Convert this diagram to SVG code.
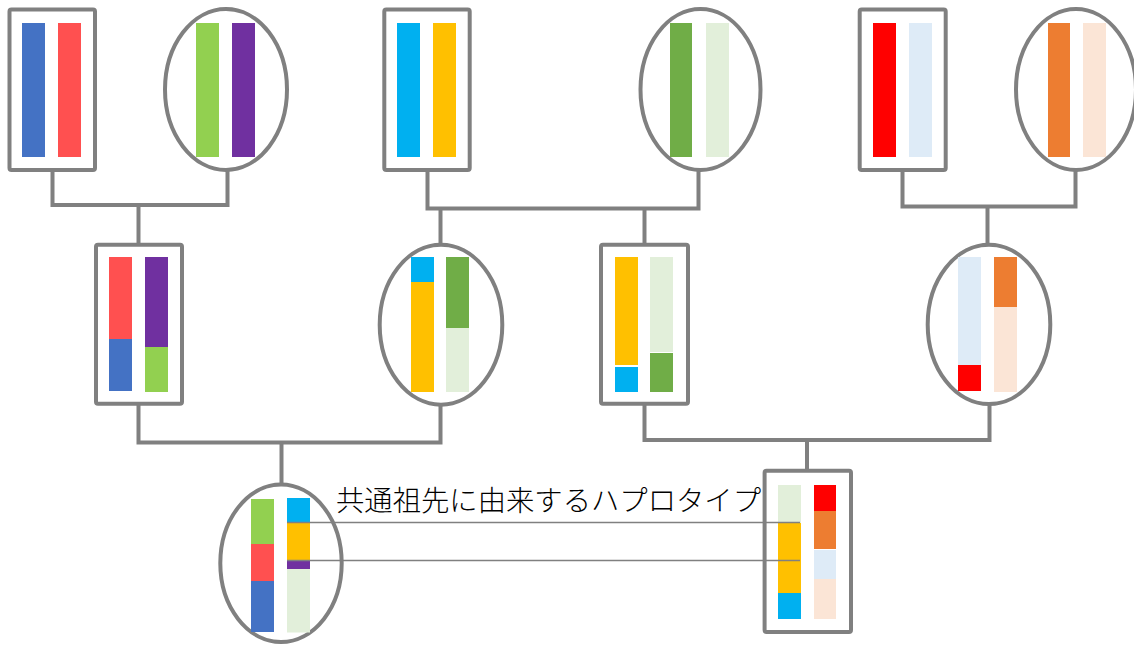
<svg xmlns="http://www.w3.org/2000/svg" width="1134" height="646" viewBox="0 0 1134 646">
<style>
.sq{fill:#fff;stroke:#808080;stroke-width:4;}
.el{fill:#fff;stroke:#808080;stroke-width:4;}
.cn{fill:none;stroke:#808080;stroke-width:4;stroke-linecap:butt;stroke-linejoin:miter;}
.hl{fill:none;stroke:#808080;stroke-width:1.5;}
.lbl{font-family:"Noto Sans CJK JP","Noto Sans",sans-serif;font-size:28px;font-weight:300;fill:#000;}
</style>
<rect width="1134" height="646" fill="#fff"/>
<g id="connectors">
<polyline class="cn" points="52.5,170 52.5,205 227.5,205 227.5,170"/>
<line class="cn" x1="138.5" y1="205" x2="138.5" y2="243"/>
<polyline class="cn" points="427.5,170 427.5,208.5 698.5,208.5 698.5,170"/>
<line class="cn" x1="440.5" y1="208.5" x2="440.5" y2="244"/>
<line class="cn" x1="644.5" y1="208.5" x2="644.5" y2="244"/>
<polyline class="cn" points="902.5,170 902.5,206.5 1075.5,206.5 1075.5,170"/>
<line class="cn" x1="987.5" y1="206.5" x2="987.5" y2="244"/>
<polyline class="cn" points="138.5,404 138.5,442.5 440.5,442.5 440.5,404"/>
<line class="cn" x1="281.5" y1="442.5" x2="281.5" y2="484"/>
<polyline class="cn" points="644.5,404 644.5,440 989.5,440 989.5,404"/>
<line class="cn" x1="807" y1="440" x2="807" y2="471"/>
</g>
<g id="g1m">
<rect class="sq" x="9.5" y="9.5" width="85.5" height="160.5" rx="2"/>
<rect x="22" y="23" width="23" height="134" fill="#4472C4"/>
<rect x="58" y="23" width="23" height="134" fill="#FF5050"/>
</g>
<g id="g1f">
<ellipse class="el" cx="226" cy="89.5" rx="61" ry="80.5"/>
<rect x="196" y="23" width="23" height="134" fill="#92D050"/>
<rect x="232" y="23" width="23" height="134" fill="#7030A0"/>
</g>
<g id="g2m">
<rect class="sq" x="384.3" y="9.5" width="85.4" height="160.5" rx="2"/>
<rect x="397" y="23" width="23" height="134" fill="#00B0F0"/>
<rect x="433" y="23" width="23" height="134" fill="#FFC000"/>
</g>
<g id="g2f">
<ellipse class="el" cx="700.5" cy="89.5" rx="60" ry="80.5"/>
<rect x="670" y="23" width="22" height="134" fill="#70AD47"/>
<rect x="706" y="23" width="23" height="134" fill="#E2EFDA"/>
</g>
<g id="g3m">
<rect class="sq" x="859.7" y="9.5" width="86" height="160.5" rx="2"/>
<rect x="873" y="23" width="23" height="134" fill="#FF0000"/>
<rect x="909" y="23" width="23" height="134" fill="#DEEBF7"/>
</g>
<g id="g3f">
<ellipse class="el" cx="1076" cy="89.5" rx="60" ry="80.5"/>
<rect x="1048" y="23" width="22" height="134" fill="#ED7D31"/>
<rect x="1083" y="23" width="23" height="134" fill="#FBE5D6"/>
</g>
<g id="p1">
<rect class="sq" x="96" y="244.7" width="86" height="159" rx="2"/>
<rect x="109" y="257" width="23" height="82" fill="#FF5050"/>
<rect x="109" y="339" width="23" height="52" fill="#4472C4"/>
<rect x="145" y="257" width="23" height="90" fill="#7030A0"/>
<rect x="145" y="347" width="23" height="45" fill="#92D050"/>
</g>
<g id="p2">
<ellipse class="el" cx="441" cy="324.7" rx="61.3" ry="80"/>
<rect x="411" y="257" width="23" height="25" fill="#00B0F0"/>
<rect x="411" y="282" width="23" height="110" fill="#FFC000"/>
<rect x="446" y="257" width="23" height="71" fill="#70AD47"/>
<rect x="446" y="328" width="23" height="64" fill="#E2EFDA"/>
</g>
<g id="p3">
<rect class="sq" x="601" y="244.7" width="87" height="159" rx="2"/>
<rect x="615" y="257" width="23" height="108" fill="#FFC000"/>
<rect x="615" y="367" width="23" height="25" fill="#00B0F0"/>
<rect x="650" y="257" width="23" height="95" fill="#E2EFDA"/>
<rect x="650" y="353" width="23" height="39" fill="#70AD47"/>
</g>
<g id="p4">
<ellipse class="el" cx="989" cy="324.4" rx="61.3" ry="79.7"/>
<rect x="958" y="257" width="23" height="108" fill="#DEEBF7"/>
<rect x="958" y="365" width="23" height="26" fill="#FF0000"/>
<rect x="994" y="257" width="23" height="50" fill="#ED7D31"/>
<rect x="994" y="307" width="23" height="85" fill="#FBE5D6"/>
</g>
<g id="c1">
<ellipse class="el" cx="281" cy="563.3" rx="60.7" ry="78.7"/>
<rect x="251" y="499" width="23" height="45" fill="#92D050"/>
<rect x="251" y="544" width="23" height="37" fill="#FF5050"/>
<rect x="251" y="581" width="23" height="51" fill="#4472C4"/>
<rect x="287" y="498" width="23" height="24" fill="#00B0F0"/>
<rect x="287" y="522" width="23" height="38" fill="#FFC000"/>
<rect x="287" y="560" width="23" height="9" fill="#7030A0"/>
<rect x="287" y="569" width="23" height="63.5" fill="#E2EFDA"/>
</g>
<g id="c2">
<rect class="sq" x="764.6" y="470.7" width="86.4" height="161.3" rx="2"/>
<rect x="778" y="485" width="23" height="38" fill="#E2EFDA"/>
<rect x="778" y="523" width="23" height="70" fill="#FFC000"/>
<rect x="778" y="593" width="23" height="26" fill="#00B0F0"/>
<rect x="814" y="485" width="22" height="26" fill="#FF0000"/>
<rect x="814" y="511" width="22" height="38" fill="#ED7D31"/>
<rect x="814" y="550" width="22" height="29" fill="#DEEBF7"/>
<rect x="814" y="579" width="22" height="40" fill="#FBE5D6"/>
</g>
<g id="haplotype">
<line class="hl" x1="287" y1="522.5" x2="800" y2="522.5"/>
<line class="hl" x1="287" y1="560.5" x2="800" y2="560.5"/>
<text class="lbl" x="336" y="511" textLength="425" lengthAdjust="spacingAndGlyphs">共通祖先に由来するハプロタイプ</text>
</g>
</svg>
